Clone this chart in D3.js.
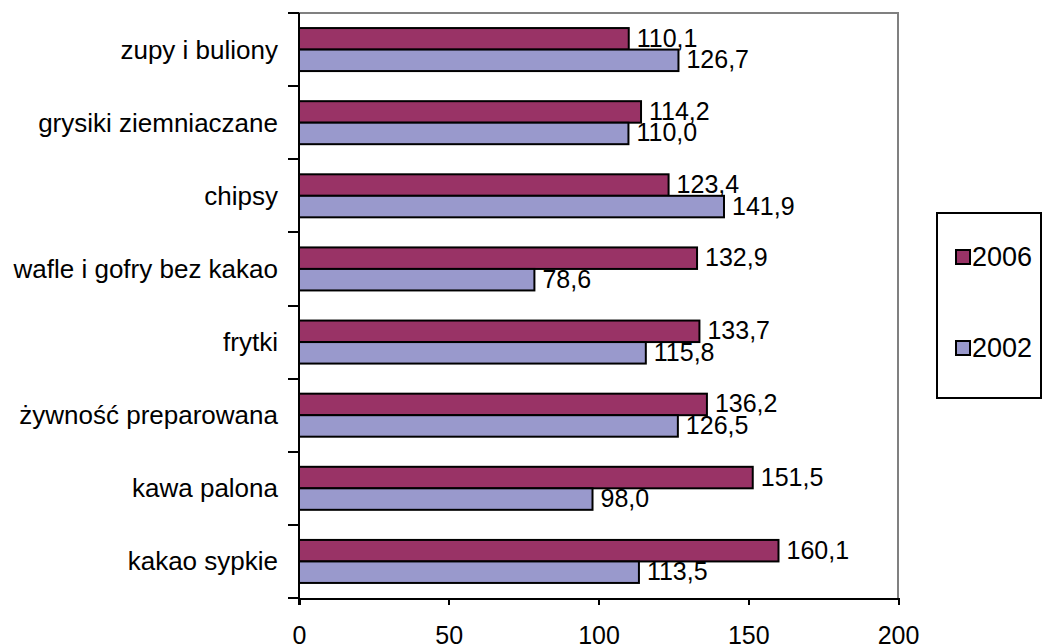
<!DOCTYPE html>
<html lang="pl">
<head>
<meta charset="utf-8">
<title>Bar chart 2002 / 2006</title>
<script src="https://d3js.org/d3.v7.min.js"></script>
<style>
	body { margin: 0; background: #fff; }
	svg text { font-family: "Liberation Sans", Arial, sans-serif; fill: #000; }
	.axis path, .axis line { stroke: #000; stroke-width: 2px; shape-rendering: crispEdges; }
</style>
</head>
<body>
<script>
// data, top to bottom
var categories = ["zupy i buliony", "grysiki ziemniaczane", "chipsy", "wafle i gofry bez kakao",
	"frytki", "żywność preparowana", "kawa palona", "kakao sypkie"];
var series = ["2006", "2002"];
var values2006 = [110.1, 114.2, 123.4, 132.9, 133.7, 136.2, 151.5, 160.1];
var values2002 = [126.7, 110.0, 141.9, 78.6, 115.8, 126.5, 98.0, 113.5];
var xTicks = [0, 50, 100, 150, 200];
var colors = {"2006": "#993366", "2002": "#9999cc"};

var width = 1043, height = 644;
var plot = {left: 299, right: 898, top: 13, bottom: 598};

var rows = categories.map(function(c, i) {
	return {cat: c, vals: [{s: "2006", v: values2006[i]}, {s: "2002", v: values2002[i]}]};
});

var fmt = function(v) { return d3.format(".1f")(v).replace(".", ","); };

var svg = d3.select("body").append("svg")
	.attr("width", width)
	.attr("height", height);

var xScale = d3.scaleLinear().domain([0, 200]).range([plot.left, plot.right]);
var yScale = d3.scaleBand().domain(categories).range([plot.top, plot.bottom]);
var inner = d3.scaleBand().domain(series).range([0, yScale.step()]).paddingOuter(0.7);

// plot frame (grey top/right)
svg.append("path")
	.attr("d", "M" + plot.left + "," + plot.top + "H" + plot.right + "V" + plot.bottom)
	.attr("fill", "none")
	.attr("stroke", "#808080")
	.attr("stroke-width", 2);

// bars
var groups = svg.selectAll(".row")
	.data(rows)
	.enter().append("g")
	.attr("class", "row")
	.attr("transform", function(d) { return "translate(0," + yScale(d.cat) + ")"; });

groups.selectAll("rect")
	.data(function(d) { return d.vals; })
	.enter().append("rect")
	.attr("x", xScale(0))
	.attr("y", function(d) { return inner(d.s); })
	.attr("width", function(d) { return xScale(d.v) - xScale(0); })
	.attr("height", inner.bandwidth())
	.attr("fill", function(d) { return colors[d.s]; })
	.attr("stroke", "#000")
	.attr("stroke-width", 2);

groups.selectAll(".lbl")
	.data(function(d) { return d.vals; })
	.enter().append("text")
	.attr("class", "lbl")
	.attr("x", function(d) { return xScale(d.v) + 8; })
	.attr("y", function(d) { return inner(d.s) + inner.bandwidth() / 2 + 8; })
	.style("font-size", "25px")
	.text(function(d) { return fmt(d.v); });

// y axis: ticks between categories
var yLine = svg.append("g").attr("class", "axis");
yLine.append("line")
	.attr("x1", plot.left).attr("x2", plot.left)
	.attr("y1", plot.top).attr("y2", plot.bottom + 7);
yLine.selectAll(".tk")
	.data(d3.range(categories.length + 1))
	.enter().append("line")
	.attr("class", "tk")
	.attr("x1", plot.left - 11).attr("x2", plot.left)
	.attr("y1", function(i) { return plot.top + i * yScale.step(); })
	.attr("y2", function(i) { return plot.top + i * yScale.step(); });

svg.selectAll(".cat")
	.data(categories)
	.enter().append("text")
	.attr("class", "cat")
	.attr("x", 278)
	.attr("y", function(d) { return yScale(d) + yScale.step() / 2 + 9; })
	.attr("text-anchor", "end")
	.style("font-size", "26px")
	.text(function(d) { return d; });

// x axis
var xAxis = d3.axisBottom(xScale).tickValues(xTicks).tickSize(7).tickSizeOuter(0).tickPadding(21);
svg.append("g")
	.attr("class", "axis")
	.attr("transform", "translate(0," + plot.bottom + ")")
	.call(xAxis)
	.selectAll("text")
	.style("font-size", "25px")
	.style("font-family", "'Liberation Sans', Arial, sans-serif");

// legend
var legend = svg.append("g");
legend.append("rect")
	.attr("x", 937).attr("y", 213)
	.attr("width", 104).attr("height", 185)
	.attr("fill", "#fff")
	.attr("stroke", "#000")
	.attr("stroke-width", 2);

var legItems = legend.selectAll(".leg")
	.data(series)
	.enter().append("g")
	.attr("class", "leg")
	.attr("transform", function(d, i) { return "translate(956," + (250 + i * 91) + ")"; });
legItems.append("rect")
	.attr("width", 14).attr("height", 14)
	.attr("fill", function(d) { return colors[d]; })
	.attr("stroke", "#000")
	.attr("stroke-width", 2);
legItems.append("text")
	.attr("x", 16).attr("y", 16)
	.style("font-size", "27px")
	.text(function(d) { return d; });
</script>
</body>
</html>
